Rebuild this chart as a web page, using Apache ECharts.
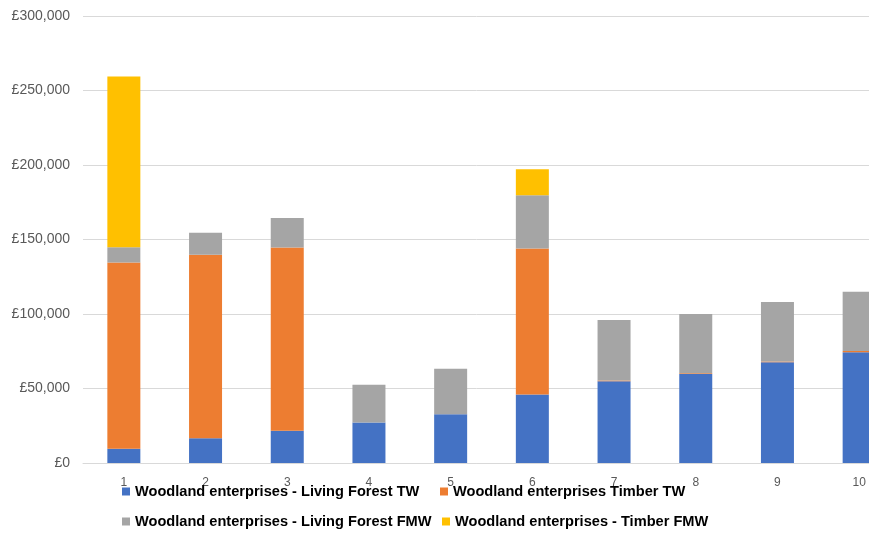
<!DOCTYPE html>
<html>
<head>
<meta charset="utf-8">
<script src="https://cdn.jsdelivr.net/npm/echarts@6/dist/echarts.min.js"></script>
<style>
  html, body { margin: 0; padding: 0; background: #fff; }
  #chart { width: 869px; height: 534px; }
</style>
</head>
<body>
<div id="chart"></div>
<script>
// Categories along the x axis
const categories = ['1', '2', '3', '4', '5', '6', '7', '8', '9', '10'];

// Stacked components (GBP)
const livingForestTW  = [9500, 16600, 21600, 27200, 32700, 46000, 54800, 59700, 67600, 74400];
const timberTW        = [125000, 123200, 123100, 0, 0, 98000, 600, 600, 600, 700];
const livingForestFMW = [10300, 14700, 19700, 25300, 30600, 35700, 40600, 39700, 39800, 39900];
const timberFMW       = [114600, 0, 0, 0, 0, 17400, 0, 0, 0, 0];

// Value axis
const yMin = 0;
const yMax = 300000;
const yStep = 50000;

const seriesNames = [
  'Woodland enterprises - Living Forest TW',
  'Woodland enterprises Timber TW',
  'Woodland enterprises - Living Forest FMW',
  'Woodland enterprises - Timber FMW'
];
const seriesData = [livingForestTW, timberTW, livingForestFMW, timberFMW];
const seriesColors = ['#4472C4', '#ED7D31', '#A5A5A5', '#FFC000'];

const chart = echarts.init(document.getElementById('chart'), null, { renderer: 'canvas' });

const legendText = {
  fontFamily: 'Liberation Sans, Arial, sans-serif',
  fontSize: 14.6,
  fontWeight: 'bold',
  color: '#000000'
};
const legendPos = [
  { left: 122, top: 484 },
  { left: 440, top: 484 },
  { left: 122, top: 514 },
  { left: 442, top: 514 }
];

chart.setOption({
  animation: false,
  backgroundColor: '#ffffff',
  // the plot runs past the right edge of the canvas, so the last bar is cut
  grid: {
    left: 83, top: 16, width: 817, height: 447,
    containLabel: false,
    outerBoundsMode: 'none'
  },
  legend: seriesNames.map((name, i) => ({
    data: [name],
    left: legendPos[i].left,
    top: legendPos[i].top,
    padding: 0,
    icon: 'rect',
    itemWidth: 8,
    itemHeight: 8,
    textStyle: legendText,
    z: 10
  })),
  xAxis: {
    type: 'category',
    data: categories,
    axisLine: { show: true, lineStyle: { color: '#d9d9d9', width: 1 } },
    axisTick: { show: false },
    axisLabel: {
      color: '#595959',
      fontFamily: 'Liberation Sans, Arial, sans-serif',
      fontSize: 12,
      margin: 14
    }
  },
  yAxis: {
    type: 'value',
    min: yMin,
    max: yMax,
    interval: yStep,
    axisLine: { show: false },
    axisTick: { show: false },
    splitLine: { lineStyle: { color: '#d9d9d9', width: 1 } },
    axisLabel: {
      color: '#595959',
      fontFamily: 'Liberation Sans, Arial, sans-serif',
      fontSize: 14,
      margin: 13,
      formatter: v => '£' + v.toLocaleString('en-GB')
    }
  },
  series: seriesNames.map((name, i) => ({
    name: name,
    type: 'bar',
    stack: 'total',
    barWidth: 33,
    data: seriesData[i],
    itemStyle: { color: seriesColors[i] }
  }))
});
</script>
</body>
</html>
